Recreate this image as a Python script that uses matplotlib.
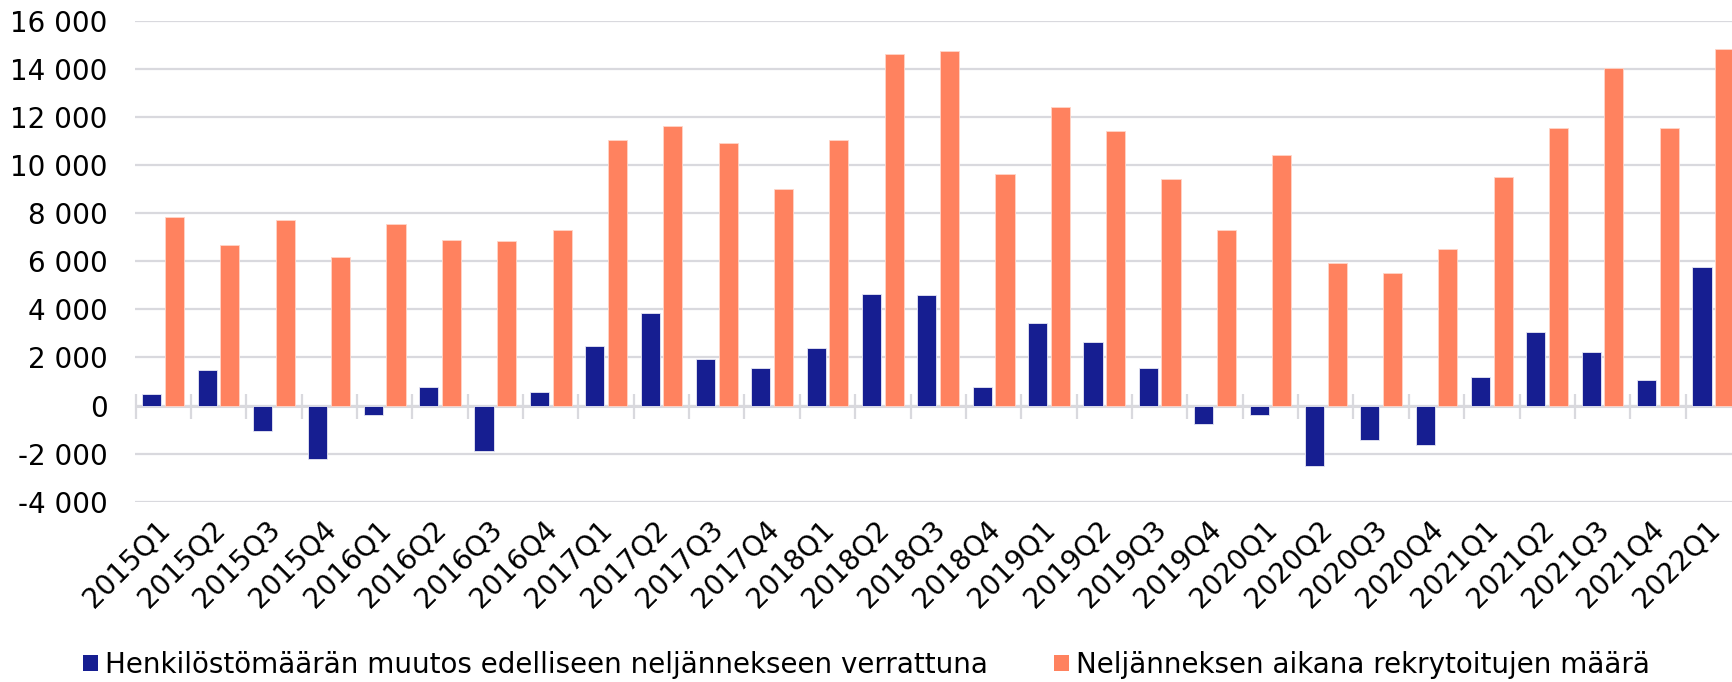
import numpy as np
import matplotlib
matplotlib.use("Agg")
import matplotlib.pyplot as plt
from matplotlib.ticker import FuncFormatter
from matplotlib.patches import Patch
from matplotlib.transforms import ScaledTranslation

categories = ["2015Q1", "2015Q2", "2015Q3", "2015Q4",
              "2016Q1", "2016Q2", "2016Q3", "2016Q4",
              "2017Q1", "2017Q2", "2017Q3", "2017Q4",
              "2018Q1", "2018Q2", "2018Q3", "2018Q4",
              "2019Q1", "2019Q2", "2019Q3", "2019Q4",
              "2020Q1", "2020Q2", "2020Q3", "2020Q4",
              "2021Q1", "2021Q2", "2021Q3", "2021Q4",
              "2022Q1"]

change = [500, 1470, -1040, -2240,
          -400, 780, -1875, 580,
          2490, 3860, 1920, 1560,
          2400, 4640, 4600, 760,
          3430, 2650, 1560, -750,
          -375, -2500, -1445, -1650,
          1180, 3070, 2220, 1070,
          5760]

recruited = [7860, 6700, 7720, 6190,
             7555, 6890, 6850, 7320,
             11030, 11630, 10920, 9030,
             11030, 14640, 14740, 9640,
             12430, 11430, 9430, 7320,
             10430, 5920, 5510, 6510,
             9510, 11530, 14030, 11530,
             14820]

series_labels = ["Henkilöstömäärän muutos edelliseen neljännekseen verrattuna",
                 "Neljänneksen aikana rekrytoitujen määrä"]
yticks = list(range(-4000, 16001, 2000))

BLUE = "#161E91"
ORANGE = "#FF825F"
GRID = "#D9D9DE"
FS = 20

plt.rcParams['font.family'] = ['DejaVu Sans']

W, H = 1733, 682
fig = plt.figure(figsize=(W / 100, H / 100), dpi=100)
left_px, right_px = 135.5, 1741.0
top_px, bot_px = 21.0, 501.7
ax = fig.add_axes([left_px / W, 1 - bot_px / H, (right_px - left_px) / W, (bot_px - top_px) / H])

x = np.arange(len(categories))
bw = 0.345
off = 0.205
ax.bar(x - off, change, width=bw, color=BLUE, edgecolor="#E8E8F4", linewidth=0.6, zorder=3)
ax.bar(x + off, recruited, width=bw, color=ORANGE, edgecolor="#FFD5C8", linewidth=0.6, zorder=3)

ax.set_xlim(-0.5, len(categories) - 0.5)
ax.set_ylim(-4000, 16000)
ax.set_yticks(yticks)
ax.yaxis.set_major_formatter(FuncFormatter(lambda v, p: f"{v:,.0f}".replace(",", " ")))
ax.yaxis.grid(True, color=GRID, linewidth=1.6, zorder=0)
ax.set_axisbelow(True)
for s in ax.spines.values():
    s.set_visible(False)
ax.tick_params(axis='y', length=0, pad=20.2, labelsize=FS, labelcolor="black")
ax.set_xticks(x)
ax.set_xticklabels(categories, rotation=45, ha='right', va='center', rotation_mode='anchor', fontsize=FS)
ax.tick_params(axis='x', length=0, pad=17)
shift = ScaledTranslation(2 / 100, 0, fig.dpi_scale_trans)
for lab in ax.get_xticklabels():
    lab.set_transform(lab.get_transform() + shift)

# zero axis line with category boundary ticks
zero_pos = (0 - (-4000)) / (16000 - (-4000))
sec = ax.secondary_xaxis(zero_pos)
sec.set_xticks(np.arange(-0.5, len(categories), 1.0))
sec.tick_params(axis='x', direction='inout', length=18, width=1.6, color=GRID, labelbottom=False, labeltop=False)
sec.spines['bottom'].set_color(GRID)
sec.spines['bottom'].set_linewidth(2.2)
for k in ['top', 'left', 'right']:
    sec.spines[k].set_visible(False)

handles = [Patch(facecolor=BLUE, edgecolor='none'), Patch(facecolor=ORANGE, edgecolor='none')]
fig.legend(handles, series_labels, loc='center', bbox_to_anchor=(0.5, 1 - 665 / H), ncol=2,
           frameon=False, fontsize=FS, handlelength=0.54, handleheight=0.54,
           handletextpad=0.25, columnspacing=2.4, borderaxespad=0, borderpad=0)

fig.savefig("out.png", dpi=100)
